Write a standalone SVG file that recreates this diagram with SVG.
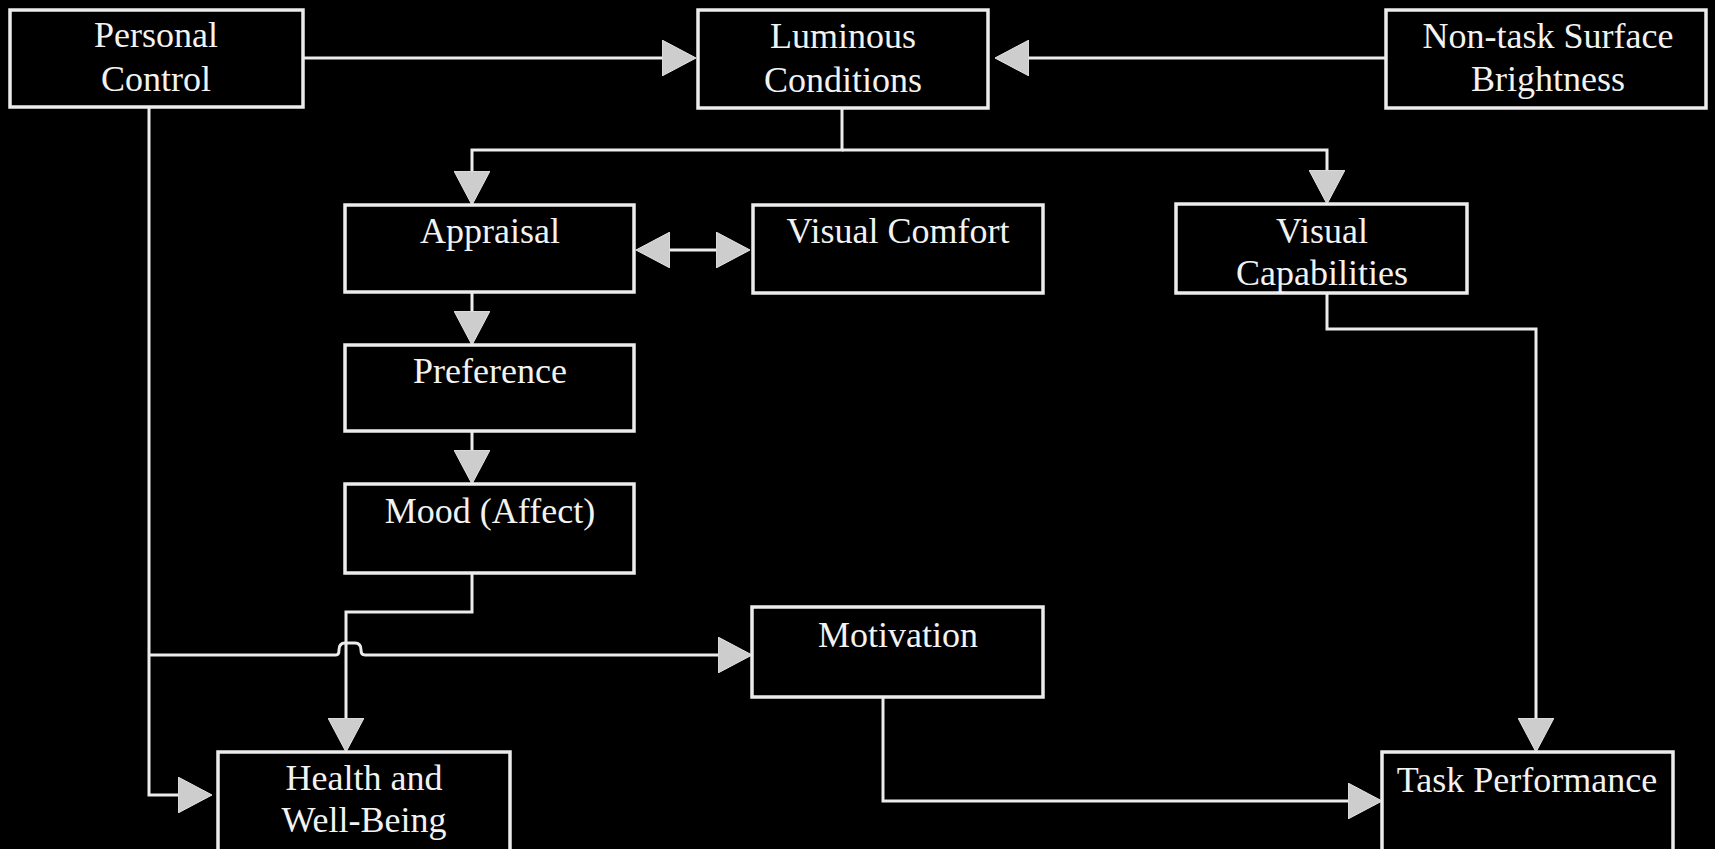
<svg xmlns="http://www.w3.org/2000/svg" width="1715" height="849" viewBox="0 0 1715 849">
<defs>
<style>
.box{fill:#000;stroke:#ececec;stroke-width:3.5}
.t{font-family:"Liberation Serif","Times New Roman",serif;font-size:36px;fill:#f2f2f2;text-anchor:middle}
.c{fill:none;stroke:#ececec;stroke-width:3}
</style>
<marker id="ah" viewBox="0 0 34 36" refX="0" refY="18" markerWidth="34" markerHeight="36" markerUnits="userSpaceOnUse" orient="auto-start-reverse">
<path d="M0,0 L34,18 L0,36 Z" fill="#cdcdcd" stroke="#e6e6e6" stroke-width="1"/>
</marker>
</defs>
<rect width="1715" height="849" fill="#000"/>
<g id="connectors">
<path class="c" d="M303,58 H662" marker-end="url(#ah)"/>
<path class="c" d="M1386,58 H1029" marker-end="url(#ah)"/>
<path class="c" d="M842,108 V150 H472 V171" marker-end="url(#ah)"/>
<path class="c" d="M842,150 H1327 V170" marker-end="url(#ah)"/>
<path class="c" d="M670,250 H716" marker-start="url(#ah)" marker-end="url(#ah)"/>
<path class="c" d="M472,292 V311" marker-end="url(#ah)"/>
<path class="c" d="M472,431 V450" marker-end="url(#ah)"/>
<path class="c" d="M472,573 V612 H346 V718" marker-end="url(#ah)"/>
<path class="c" d="M149,107 V795 H178" marker-end="url(#ah)"/>
<path class="c" d="M149,655 H336 Q339,655 339,650 Q339,643 345,643 H355 Q361,643 361,650 Q361,655 365,655 H718" marker-end="url(#ah)"/>
<path class="c" d="M883,697 V801 H1348" marker-end="url(#ah)"/>
<path class="c" d="M1327,293 V329 H1536 V718" marker-end="url(#ah)"/>
</g>
<g id="personal-control">
<rect class="box" x="10" y="10" width="293" height="97"/>
<text class="t" x="156" y="47">Personal</text>
<text class="t" x="156" y="91">Control</text>
</g>
<g id="luminous-conditions">
<rect class="box" x="698" y="10" width="290" height="98"/>
<text class="t" x="843" y="48">Luminous</text>
<text class="t" x="843" y="92">Conditions</text>
</g>
<g id="non-task-surface-brightness">
<rect class="box" x="1386" y="10" width="320" height="98"/>
<text class="t" x="1548" y="48">Non-task Surface</text>
<text class="t" x="1548" y="91">Brightness</text>
</g>
<g id="appraisal">
<rect class="box" x="345" y="205" width="289" height="87"/>
<text class="t" x="490" y="243">Appraisal</text>
</g>
<g id="visual-comfort">
<rect class="box" x="753" y="205" width="290" height="88"/>
<text class="t" x="898" y="243">Visual Comfort</text>
</g>
<g id="visual-capabilities">
<rect class="box" x="1176" y="204" width="291" height="89"/>
<text class="t" x="1322" y="243">Visual</text>
<text class="t" x="1322" y="285">Capabilities</text>
</g>
<g id="preference">
<rect class="box" x="345" y="345" width="289" height="86"/>
<text class="t" x="490" y="383">Preference</text>
</g>
<g id="mood">
<rect class="box" x="345" y="484" width="289" height="89"/>
<text class="t" x="490" y="523">Mood (Affect)</text>
</g>
<g id="motivation">
<rect class="box" x="752" y="607" width="291" height="90"/>
<text class="t" x="898" y="647">Motivation</text>
</g>
<g id="health-well-being">
<rect class="box" x="218" y="752" width="292" height="110"/>
<text class="t" x="364" y="790">Health and</text>
<text class="t" x="364" y="832">Well-Being</text>
</g>
<g id="task-performance">
<rect class="box" x="1382" y="752" width="291" height="110"/>
<text class="t" x="1527" y="792">Task Performance</text>
</g>
</svg>
